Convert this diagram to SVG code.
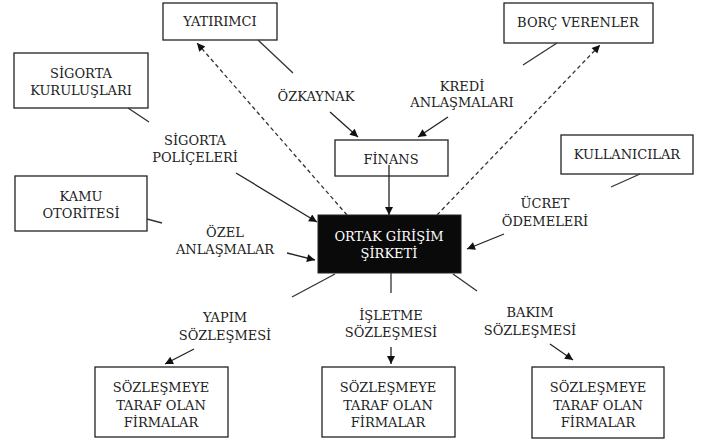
<svg xmlns="http://www.w3.org/2000/svg" width="707" height="443" viewBox="0 0 707 443">
<style>
.box{fill:#fff;stroke:#222;stroke-width:1.3}
.dark{fill:#0a0a0a;stroke:#222;stroke-width:1}
text{font-family:'DejaVu Serif',serif;font-size:13px;fill:#222;text-anchor:middle}
.w{fill:#fff}
.ln{stroke:#333;stroke-width:1.3;fill:none}
.ar{stroke:#222;stroke-width:1.3;fill:none;marker-end:url(#ah)}
.da{stroke:#333;stroke-width:1.3;fill:none;stroke-dasharray:4 3;marker-end:url(#ah)}
</style>
<defs>
<marker id="ah" viewBox="0 0 10 10" refX="10" refY="5" markerWidth="10" markerHeight="8" markerUnits="userSpaceOnUse" orient="auto">
<path d="M0,0 L10,5 L0,10 z" fill="#111"/>
</marker>
</defs>
<rect width="707" height="443" fill="#fff"/>
<g id="yatirimci"><rect class="box" x="163" y="3" width="114" height="37"/><text x="220" y="26">YATIRIMCI</text></g>
<g id="borc"><rect class="box" x="504" y="3" width="149" height="40"/><text x="578" y="27">BORÇ VERENLER</text></g>
<g id="sigorta"><rect class="box" x="14" y="53" width="134" height="55"/><text x="81" y="78">SİGORTA</text><text x="81" y="95">KURULUŞLARI</text></g>
<g id="finans"><rect class="box" x="335" y="140" width="113" height="36"/><text x="391" y="164">FİNANS</text></g>
<g id="kullanicilar"><rect class="box" x="561" y="135" width="132" height="39"/><text x="627" y="159">KULLANICILAR</text></g>
<g id="kamu"><rect class="box" x="15" y="176" width="132" height="55"/><text x="81" y="201">KAMU</text><text x="81" y="218">OTORİTESİ</text></g>
<g id="ortak"><rect class="dark" x="318" y="215" width="143" height="58"/><text class="w" x="389" y="241">ORTAK GİRİŞİM</text><text class="w" x="389" y="258">ŞİRKETİ</text></g>
<g id="firma1"><rect class="box" x="95" y="367" width="133" height="70"/><text x="161" y="392">SÖZLEŞMEYE</text><text x="161" y="410">TARAF OLAN</text><text x="161" y="427">FİRMALAR</text></g>
<g id="firma2"><rect class="box" x="322" y="367" width="133" height="70"/><text x="388" y="392">SÖZLEŞMEYE</text><text x="388" y="410">TARAF OLAN</text><text x="388" y="427">FİRMALAR</text></g>
<g id="firma3"><rect class="box" x="532" y="367" width="132" height="71"/><text x="598" y="392">SÖZLEŞMEYE</text><text x="598" y="410">TARAF OLAN</text><text x="598" y="427">FİRMALAR</text></g>
<g id="labels">
<text x="316" y="101">ÖZKAYNAK</text>
<text x="462" y="91">KREDİ</text><text x="462" y="107">ANLAŞMALARI</text>
<text x="195" y="145">SİGORTA</text><text x="195" y="162">POLİÇELERİ</text>
<text x="545" y="208">ÜCRET</text><text x="545" y="226">ÖDEMELERİ</text>
<text x="225" y="237">ÖZEL</text><text x="225" y="254">ANLAŞMALAR</text>
<text x="225" y="322">YAPIM</text><text x="225" y="340">SÖZLEŞMESİ</text>
<text x="391" y="320">İŞLETME</text><text x="391" y="337">SÖZLEŞMESİ</text>
<text x="530" y="317">BAKIM</text><text x="530" y="335">SÖZLEŞMESİ</text>
</g>
<g id="connectors">
<line class="ln" x1="258" y1="40" x2="293" y2="73"/>
<line class="ar" x1="330" y1="112" x2="358" y2="137"/>
<line class="ln" x1="557" y1="43" x2="523" y2="65"/>
<line class="ar" x1="448" y1="117" x2="418" y2="137"/>
<line class="ln" x1="128" y1="108" x2="149" y2="122"/>
<line class="ar" x1="236" y1="173" x2="317" y2="222"/>
<line class="da" x1="347" y1="215" x2="197" y2="43"/>
<line class="da" x1="437" y1="215" x2="600" y2="45"/>
<line class="ar" x1="389" y1="165" x2="389" y2="215"/>
<line class="ln" x1="640" y1="174" x2="611" y2="187"/>
<line class="ar" x1="504" y1="234" x2="467" y2="249"/>
<line class="ln" x1="147" y1="219" x2="162" y2="223"/>
<line class="ar" x1="287" y1="253" x2="315" y2="260"/>
<line class="ln" x1="335" y1="274" x2="292" y2="297"/>
<line class="ln" x1="391" y1="273" x2="391" y2="293"/>
<line class="ln" x1="453" y1="274" x2="477" y2="291"/>
<line class="ar" x1="194" y1="349" x2="165" y2="364"/>
<line class="ar" x1="391" y1="347" x2="391" y2="364"/>
<line class="ar" x1="550" y1="344" x2="573" y2="360"/>
</g>
</svg>
